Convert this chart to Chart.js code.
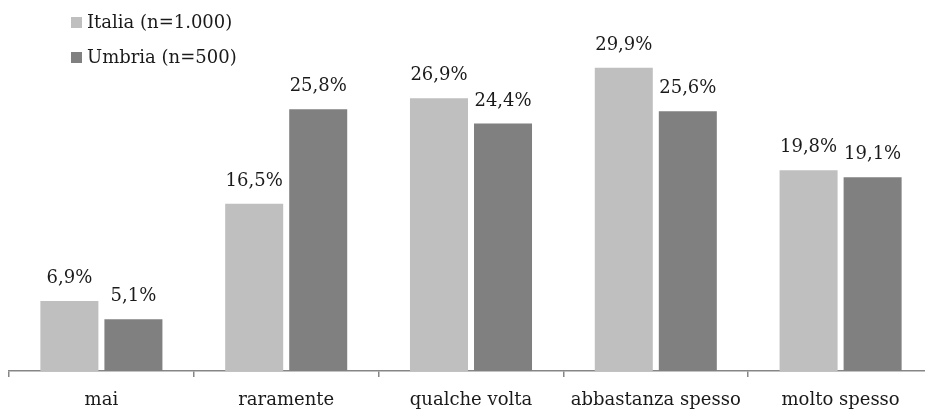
<!DOCTYPE html>
<html>
<head>
<meta charset="utf-8">
<script src="https://cdn.jsdelivr.net/npm/chart.js@4/dist/chart.umd.min.js"></script>
<style>
html,body{margin:0;padding:0;overflow:hidden;background:#fff;}
canvas{display:block;}
</style>
</head>
<body>
<canvas id="c" width="942" height="410"></canvas>
<script>
const categories = ["mai", "raramente", "qualche volta", "abbastanza spesso", "molto spesso"];
const italiaValues = [6.9, 16.5, 26.9, 29.9, 19.8];
const umbriaValues = [5.1, 25.8, 24.4, 25.6, 19.1];
const seriesLabels = ["Italia (n=1.000)", "Umbria (n=500)"];
const seriesColors = ["#BFBFBF", "#808080"];
const FONT = '"DejaVu Serif", "Liberation Serif", serif';
const FSIZE = 18;

const valueLabels = {
  id: 'valueLabels',
  afterDatasetsDraw(chart) {
    const ctx = chart.ctx;
    ctx.save();
    ctx.font = FSIZE + "px " + FONT;
    ctx.fillStyle = "#1a1a1a";
    ctx.textAlign = "center";
    ctx.textBaseline = "alphabetic";
    chart.data.datasets.forEach((ds, i) => {
      const meta = chart.getDatasetMeta(i);
      meta.data.forEach((bar, j) => {
        const txt = ds.data[j].toFixed(1).replace('.', ',') + '%';
        ctx.fillText(txt, bar.x, bar.y - 18);
      });
    });
    ctx.restore();
  }
};

const sideLegend = {
  id: 'sideLegend',
  afterDraw(chart) {
    const ctx = chart.ctx;
    ctx.save();
    ctx.font = FSIZE + "px " + FONT;
    ctx.textBaseline = "alphabetic";
    ctx.textAlign = "left";
    chart.data.datasets.forEach((ds, i) => {
      const yb = 28 + i * 35;
      ctx.fillStyle = ds.backgroundColor;
      ctx.fillRect(71, yb - 11, 11, 11);
      ctx.fillStyle = "#1a1a1a";
      ctx.fillText(ds.label, 87, yb);
    });
    ctx.restore();
  }
};

new Chart(document.getElementById('c'), {
  type: 'bar',
  data: {
    labels: categories,
    datasets: [
      { label: seriesLabels[0], data: italiaValues, backgroundColor: seriesColors[0] },
      { label: seriesLabels[1], data: umbriaValues, backgroundColor: seriesColors[1] }
    ]
  },
  options: {
    responsive: false,
    animation: false,
    devicePixelRatio: 1,
    layout: { padding: { left: 9, right: 9, top: 16, bottom: 0 } },
    datasets: { bar: { categoryPercentage: 0.693, barPercentage: 0.906 } },
    plugins: { legend: { display: false }, tooltip: { enabled: false } },
    scales: {
      x: {
        grid: { display: true, drawOnChartArea: false, drawTicks: true, tickLength: 6, color: '#868686', lineWidth: 1.5, offset: true },
        border: { display: true, color: '#868686', width: 1.5 },
        ticks: { font: { family: FONT, size: FSIZE }, color: '#1a1a1a', padding: 13, maxRotation: 0, autoSkip: false },
        afterFit: (scale) => { scale.height = 39; }
      },
      y: { display: false, min: 0, max: 35 }
    }
  },
  plugins: [valueLabels, sideLegend]
});
</script>
</body>
</html>
